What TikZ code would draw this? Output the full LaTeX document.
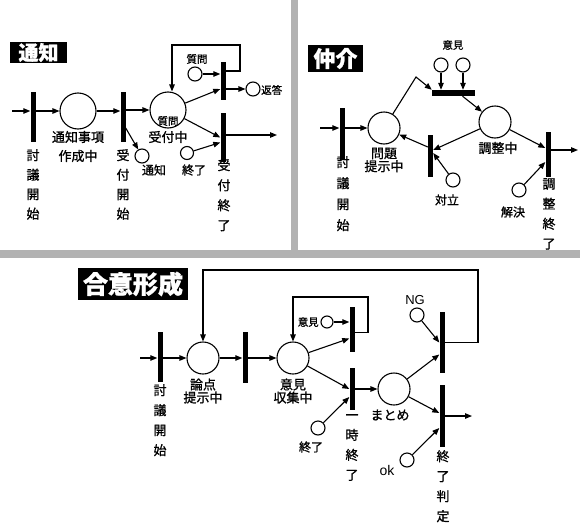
\documentclass[tikz,border=0pt]{standalone}
\usepackage{fontspec}
\newfontfamily\cjk[FakeBold=1]{Noto Sans CJK JP}
\setsansfont{Liberation Sans}
\usetikzlibrary{arrows.meta}
\begin{document}
\begin{tikzpicture}[x=1pt,y=-1pt,
  every node/.style={inner sep=0pt,font=\cjk\fontsize{12}{14}\selectfont},
  place/.style={circle,draw,line width=1.1pt,minimum size=#1,inner sep=0pt},
  splace/.style={circle,draw,line width=1.1pt,minimum size=14pt,inner sep=0pt},
  trans/.style={rectangle,fill=black,draw=none,minimum width=5pt,minimum height=#1,inner sep=0pt},
  htrans/.style={rectangle,fill=black,draw=none,minimum width=43pt,minimum height=6pt,inner sep=0pt},
  arc/.style={line width=1.1pt,-{Triangle[length=7pt,width=5.5pt]}},
  title/.style={fill=black,text=white,inner sep=0pt},
  vlab/.style={anchor=north,align=center,font=\cjk\fontsize{13}{#1}\selectfont},
  two/.style={align=center,font=\cjk\fontsize{13}{#1}\selectfont},
  small/.style={font=\cjk\fontsize{10.5}{12}\selectfont},
  sepfill/.style={fill=black!30}
]
\useasboundingbox (0,0) rectangle (580,522);

% separators
\fill[sepfill] (291,0) rectangle (298,252);
\fill[sepfill] (0,250) rectangle (580,258);

%================ Panel 1: 通知
\node[title,minimum width=57pt,minimum height=21pt,font=\cjk\bfseries\fontsize{20}{20}\selectfont] (T1) at (38.5,52.5) {通知};
\coordinate (in1) at (12,111);
\node[trans=50pt] (t1) at (33,117) {};
\node[place=36pt] (p1) at (78,111) {};
\node[trans=50pt] (t2) at (123,117) {};
\node[place=36pt] (p2) at (168,110) {};
\node[trans=38pt] (t3) at (223,81) {};
\node[trans=49pt] (t4) at (223,137.5) {};
\node[splace] (q1) at (195,74) {};
\node[splace] (r1) at (253,89) {};
\node[splace] (n1) at (142,156) {};
\node[splace,minimum size=13pt] (e1) at (187,153) {};
\coordinate (lp1) at (240,45);
\coordinate (out1) at (277,135);

\draw[arc] (in1) -- (in1 -| t1.west);
\draw[arc] (t1.east |- p1) -- (p1.west);
\draw[arc] (p1.east) -- (p1 -| t2.west);
\draw[arc] (t2.east |- p2) -- (p2.west);
\draw[arc] ([yshift=-11pt]t2.east) -- (n1);
\draw[arc] (p2) -- ([yshift=-8pt]t3.west);
\draw[arc] (q1) -- (q1 -| t3.west);
\draw[arc] ([yshift=-8pt]t3.east) -- (r1);
\draw[arc] ([yshift=10pt]t3.east) -| (lp1) -| ([xshift=4pt]p2.north);
\draw[arc] (p2) -- (t4.west);
\draw[arc] (e1) -- ([yshift=-5pt]t4.west);
\draw[arc] ([yshift=2.5pt]t4.east) -- (out1);

\node[two=19pt] (lab1) at (78,146.5) {通知事項\\作成中};
\node[vlab=19.5pt] (v1) at (33,149) {討\\議\\開\\始};
\node[vlab=19.5pt] (v2) at (123,149) {受\\付\\開\\始};
\node[vlab=20pt] (v3) at (224,159) {受\\付\\終\\了};
\node[font=\cjk\fontsize{12}{14}\selectfont] (ln1) at (154,170) {通知};
\node[small] (lq2) at (168,121) {質問};
\node[font=\cjk\fontsize{13}{14}\selectfont] (lp2) at (168,137) {受付中};
\node[font=\cjk\fontsize{12}{14}\selectfont] (le1) at (194,170) {終了};
\node[small] (lq1) at (197,59) {質問};
\node[small,anchor=west] (lr1) at (261,90) {返答};

%================ Panel 2: 仲介
\node[title,minimum width=55pt,minimum height=27pt,font=\cjk\bfseries\fontsize{22}{22}\selectfont] (T2) at (335.5,58.5) {仲介};
\coordinate (in2) at (320,128);
\node[trans=52pt] (t5) at (342,134) {};
\node[place=32pt] (p3) at (384,128) {};
\node[htrans] (t6) at (453.5,93) {};
\node[splace] (s1) at (441,65) {};
\node[splace] (s2) at (463,65) {};
\node[place=32pt] (p4) at (495,122) {};
\node[trans=42pt] (t7) at (430.5,156) {};
\node[splace] (d1) at (453,180) {};
\node[trans=45pt] (t8) at (548,154.5) {};
\node[splace] (k1) at (519,190) {};
\coordinate (bend2) at (416,77);
\coordinate (out2) at (578,150);

\draw[arc] (in2) -- (in2 -| t5.west);
\draw[arc] (t5.east |- p3) -- (p3.west);
\draw[arc] (p3) -- (bend2) -- (t6.north west);
\draw[arc] (s1) -- (s1 |- t6.north);
\draw[arc] (s2) -- (s2 |- t6.north);
\draw[arc] ([xshift=9pt]t6.south) -- (p4);
\draw[arc] (p4) -- ([yshift=6pt]t7.east);
\draw[arc] (d1) -- ([yshift=3pt]t7.east);
\draw[arc] ([yshift=9pt]t7.west) -- (p3);
\draw[arc] (p4) -- ([yshift=6.5pt]t8.west);
\draw[arc] (k1) -- ([yshift=-7.5pt]t8.west);
\draw[arc] ([yshift=4.5pt]t8.east) -- (out2);

\node[two=13pt] (lab3) at (384,160) {問題\\提示中};
\node[font=\cjk\fontsize{13}{14}\selectfont] (lab4) at (498,148) {調整中};
\node[small] (ls) at (453,45) {意見};
\node[font=\cjk\fontsize{12}{14}\selectfont] (ld) at (447,200) {対立};
\node[font=\cjk\fontsize{12}{14}\selectfont] (lk) at (513,212) {解決};
\node[vlab=21pt] (v4) at (343,156) {討\\議\\開\\始};
\node[vlab=20pt] (v5) at (549,178) {調\\整\\終\\了};

%================ Panel 3: 合意形成
\node[title,minimum width=110pt,minimum height=32pt,font=\cjk\bfseries\fontsize{25}{25}\selectfont] (T3) at (133,284) {合意形成};
\coordinate (in3) at (140,358);
\node[trans=50pt] (t9) at (160,357) {};
\node[place=32pt] (p5) at (203,358) {};
\node[trans=51pt] (t10) at (245,357.5) {};
\node[place=32pt] (p6) at (293,358) {};
\node[trans=45pt] (t11) at (352,329.5) {};
\node[trans=42pt] (t12) at (352,389) {};
\node[splace,minimum size=12pt] (s3) at (327,322) {};
\node[place=32pt] (p7) at (394,389) {};
\node[trans=61pt] (t13) at (442,342.5) {};
\node[trans=62pt] (t14) at (442,416) {};
\node[splace] (ng) at (417,315) {};
\node[splace] (ok) at (407,460) {};
\node[splace] (e3) at (318,428) {};
\coordinate (lp3a) at (478,270);
\coordinate (lp3b) at (368,297);
\coordinate (out3) at (472,416);

\draw[arc] (in3) -- (in3 -| t9.west);
\draw[arc] (t9.east |- p5) -- (p5.west);
\draw[arc] (p5.east) -- (p5 -| t10.west);
\draw[arc] (t10.east |- p6) -- (p6.west);
\draw[arc] (t13.east) -| (lp3a) -| (p5.north);
\draw[arc] ([yshift=-3pt]t11.east) -| (lp3b) -| (p6.north);
\draw[arc] (s3) -- (s3 -| t11.west);
\draw[arc] (p6) -- ([yshift=-9pt]t11.west);
\draw[arc] (p6) -- (t12.west);
\draw[arc] (e3) -- ([yshift=-8pt]t12.west);
\draw[arc] (t12.east) -- (p7.west);
\draw[arc] (p7) -- ([yshift=-12pt]t13.west);
\draw[arc] (ng) -- (t13.west);
\draw[arc] (p7) -- ([yshift=3pt]t14.west);
\draw[arc] (ok) -- ([yshift=-12pt]t14.west);
\draw[arc] (t14.east) -- (out3);

\node[two=13pt] (lab5) at (203,391) {論点\\提示中};
\node[two=13pt] (lab6) at (293,391) {意見\\収集中};
\node[small,anchor=east] (ls3) at (319,322) {意見};
\node[font=\cjk\fontsize{12}{14}\selectfont] (le3) at (311,447) {終了};
\node[vlab=20pt] (v6) at (352,414) {一\\時\\終\\了};
\node[font=\cjk\fontsize{13}{14}\selectfont] (lab7) at (390,415) {まとめ};
\node[font=\sffamily\fontsize{13}{14}\selectfont] (lng) at (415,300) {NG};
\node[font=\sffamily\fontsize{14}{14}\selectfont] (lok) at (387,470) {ok};
\node[vlab=20pt] (v7) at (160,384) {討\\議\\開\\始};
\node[vlab=20pt] (v8) at (443,450) {終\\了\\判\\定};
\end{tikzpicture}
\end{document}
